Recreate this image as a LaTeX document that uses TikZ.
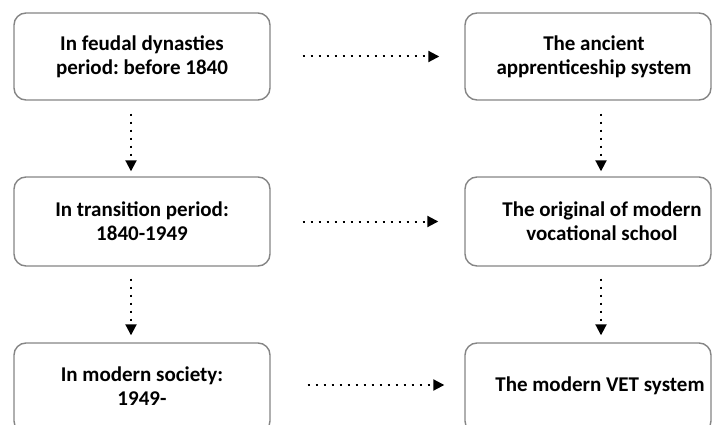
\documentclass[tikz,border=0pt]{standalone}
\usepackage{fontspec}
\setmainfont{Carlito}
\usetikzlibrary{arrows.meta}
\frenchspacing
\begin{document}
\begin{tikzpicture}[x=1pt,y=-1pt,
  box/.style={draw=black!48, line width=1.4pt, rounded corners=12pt, fill=white,
    inner sep=0pt, font=\fontsize{21}{24}\selectfont\bfseries, align=center, text=black},
  lbox/.style={box, minimum width=256pt},
  rbox/.style={box, minimum width=246pt},
  txt/.style={inner sep=0pt, font=\fontsize{21}{24}\selectfont\bfseries, align=center, text=black},
  conn/.style={line width=2pt, dash pattern=on 2pt off 6pt,
    -{Triangle[width=11pt,length=11pt]}}]
\useasboundingbox (0,0) rectangle (712,425);
\clip (0,0) rectangle (712,425);

% left column: periods
\node[lbox, minimum height=87pt] (l1) at (142,56.5) {In feudal dynasties\\period: before 1840};
\node[lbox, minimum height=89pt] (l2) at (142,221.5) {In transition period:\\1840-1949};
\node[lbox, minimum height=90pt] (l3) at (142,388) {};
\node[txt] (l3t) at (142,386) {In modern society:\\1949-};

% right column: systems
\node[rbox, minimum height=87pt] (r1) at (588,56.5) {};
\node[rbox, minimum height=89pt] (r2) at (588,221.5) {};
\node[rbox, minimum height=90pt] (r3) at (588,388) {};
\node[txt] (r1t) at ([xshift=6pt]r1.center) {The ancient\\apprenticeship system};
\node[txt] (r2t) at ([xshift=14pt]r2.center) {The original of modern\\vocational school};
\node[txt] (r3t) at (600,386) {The modern VET system};

% horizontal links
\draw[conn] ([xshift=32pt]l1.east) -- ([xshift=-25pt]r1.west);
\draw[conn] ([xshift=32pt]l2.east) -- ([xshift=-26pt]r2.west);
\draw[conn] ([xshift=37pt,yshift=3pt]l3.east) -- ([xshift=-20pt,yshift=3pt]r3.west);

% vertical links
\draw[conn] ([xshift=-11pt,yshift=-13pt]l1.south) -- ([xshift=-11pt,yshift=5pt]l2.north);
\draw[conn] ([xshift=-11pt,yshift=-12pt]l2.south) -- ([xshift=-11pt,yshift=7pt]l3.north);
\draw[conn] ([xshift=13pt,yshift=-13pt]r1.south) -- ([xshift=13pt,yshift=5pt]r2.north);
\draw[conn] ([xshift=13pt,yshift=-12pt]r2.south) -- ([xshift=13pt,yshift=7pt]r3.north);
\end{tikzpicture}
\end{document}
